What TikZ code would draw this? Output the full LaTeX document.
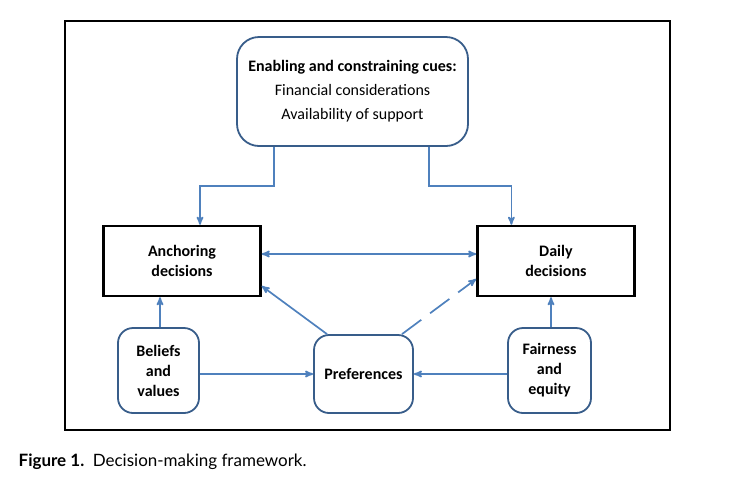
\documentclass[tikz,border=0pt]{standalone}
\usepackage{fontspec}
\setmainfont{Carlito}
\newfontfamily\capfont{Lato}
\usepackage{xcolor}
\usetikzlibrary{arrows,positioning}
\definecolor{linkblue}{RGB}{79,129,189}
\definecolor{boxblue}{RGB}{56,93,138}

\begin{document}
\begin{tikzpicture}[x=1pt,y=-1pt,->,>=stealth',semithick,
                        cuebox/.style={rectangle, rounded corners=15pt, draw=boxblue, line width=1.8pt, fill=white, align=center, font=\bfseries\fontsize{16}{20}\selectfont},
                        decbox/.style={rectangle, draw=black, line width=2.4pt, minimum width=157pt, minimum height=70pt, align=center, font=\bfseries\fontsize{16}{20}\selectfont}]
      \tikzstyle{link}=[draw=linkblue, line width=1.7pt]
      \useasboundingbox (0,0) rectangle (746,483);
      \draw[-, line width=1.2pt] (65,21) rectangle (670,430);

      \node[cuebox, rounded corners=22pt, minimum width=231pt, minimum height=109pt, font=\fontsize{16}{24}\selectfont]
                                                          (cues)     at (352.5,91.5) {\textbf{Enabling and constraining cues:}\\Financial considerations\\Availability of support};
      \node[decbox]                                       (anchor)   at (182,261)    {Anchoring\\decisions};
      \node[decbox]                                       (daily)    [right=214.5pt of anchor] {Daily\\decisions};
      \node[cuebox, minimum width=81pt, minimum height=85pt] (beliefs)  at (158.5,370.5) {Beliefs\\and\\values};
      \node[cuebox, minimum width=99pt, minimum height=78pt] (prefs)    at (363.5,374)   {Preferences};
      \node[cuebox, minimum width=83pt, minimum height=85pt] (fairness) at (549.5,370.5) {Fairness\\and\\equity};
      \node[anchor=west, font=\capfont\fontsize{17}{19}\selectfont] (caption) at (15,462) {\textbf{Figure 1.}\enspace Decision-making framework.};

      \draw[link] ([xshift=-78.5pt]cues.south) -- ++(0,39) -| ([xshift=18pt]anchor.north);
      \draw[link] ([xshift=76.5pt]cues.south)  -- ++(0,39) -| ([xshift=-44.5pt]daily.north);
      \draw[link,<->] ([yshift=7pt]anchor.east) -- ([yshift=7pt]daily.west);
      \draw[link] ([xshift=1.5pt]beliefs.north) -- ([xshift=1.5pt]beliefs.north |- anchor.south);
      \draw[link] ([xshift=1.5pt]fairness.north) -- ([xshift=1.5pt]fairness.north |- daily.south);
      \draw[link] (beliefs.east |- prefs) -- (prefs.west);
      \draw[link] (fairness.west |- prefs) -- (prefs.east);
      \draw[link] ([xshift=-36.5pt]prefs.north) -- ([yshift=-25pt]anchor.east);
      \draw[link, dash pattern=on 24pt off 11pt] ([xshift=38.5pt]prefs.north) -- ([yshift=-18pt]daily.west);
    \end{tikzpicture}
\end{document}
